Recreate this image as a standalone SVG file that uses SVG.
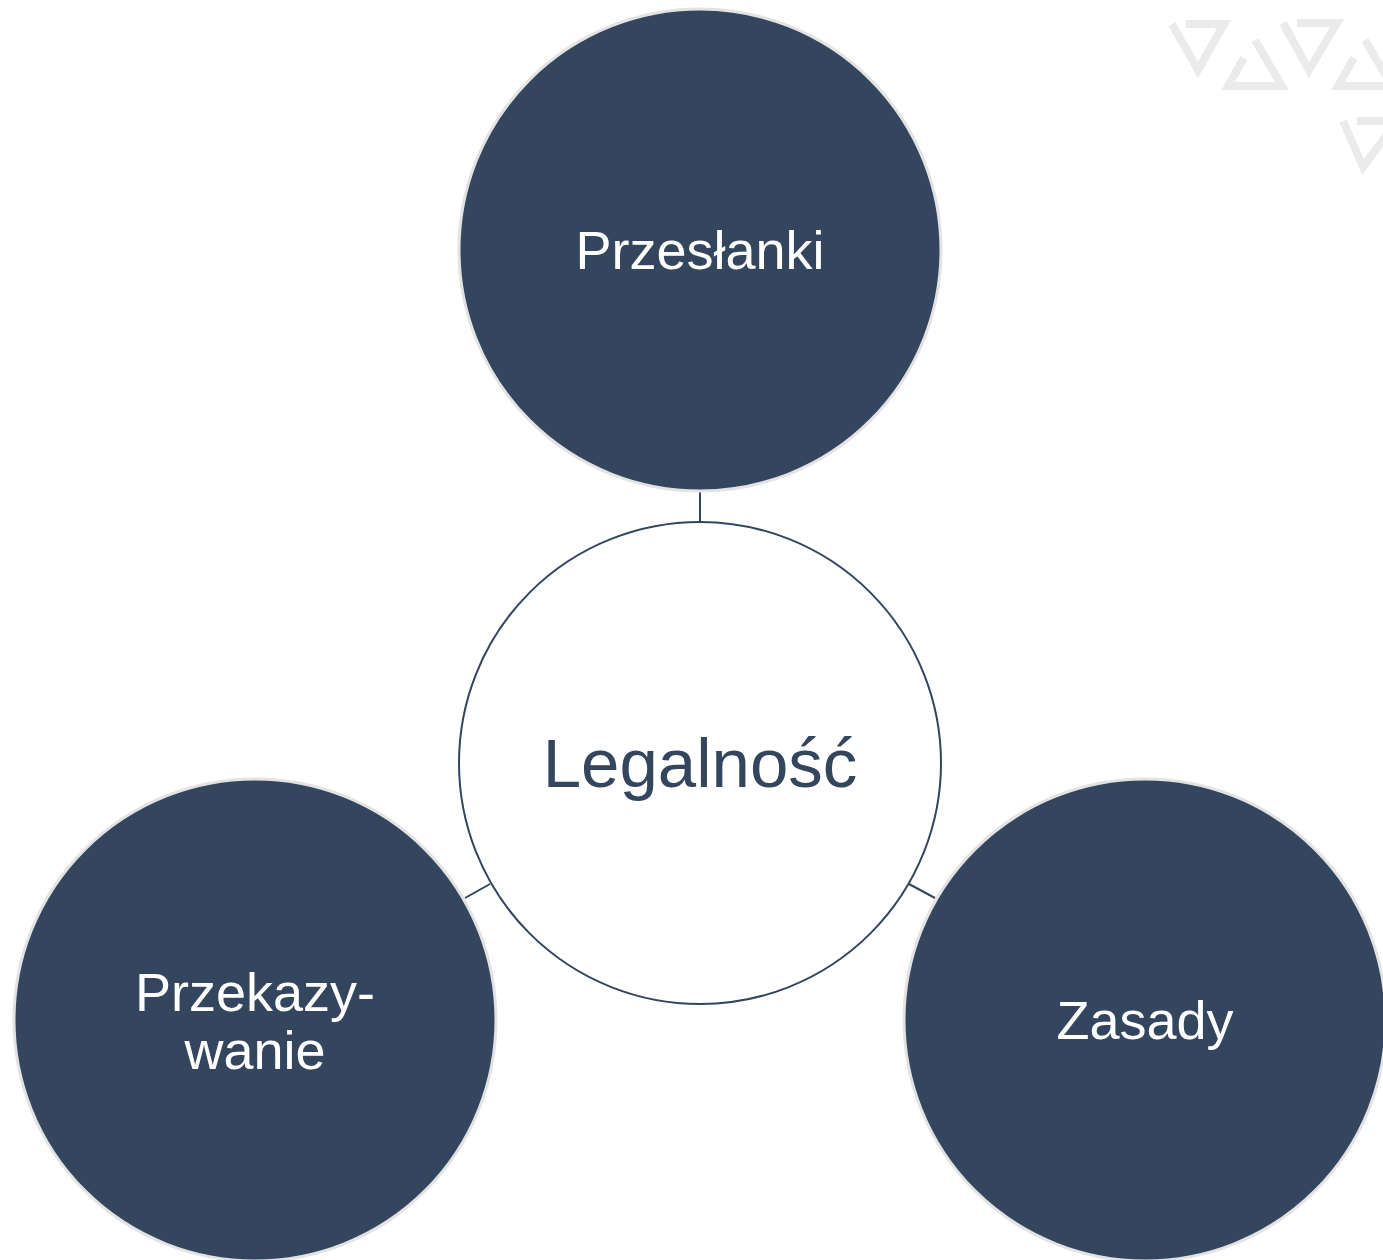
<svg xmlns="http://www.w3.org/2000/svg" width="1383" height="1260" viewBox="0 0 1383 1260">
<style>
.node{fill:#34455e;stroke:#e3e3e3;stroke-width:3}
.center{fill:#ffffff;stroke:#34455e;stroke-width:2}
.conn{stroke:#34455e;stroke-width:2;fill:none}
.lbl{font-family:"Liberation Sans","DejaVu Sans",sans-serif;fill:#ffffff;font-size:54px;text-anchor:middle}
.clbl{font-family:"Liberation Sans","DejaVu Sans",sans-serif;fill:#34455e;font-size:69px;text-anchor:middle}
.wm{fill:none;stroke:#ebebeb;stroke-width:8;stroke-linejoin:miter}
</style>
<rect width="1383" height="1260" fill="#ffffff"/>
<g id="watermark">
<path class="wm" d="M1186,24 L1224,24 L1198,70 L1172,24"/>
<path class="wm" d="M1255,40 L1282,86 L1228,86 L1244,58"/>
<path class="wm" d="M1297,23 L1337,23 L1309,70 L1283,23"/>
<path class="wm" d="M1365,40 L1392,86 L1338,86 L1354,58"/>
<path class="wm" d="M1357,121 L1397,121 L1363,167 L1343,121"/>
</g>
<g id="connectors">
<line class="conn" x1="700" y1="490" x2="700" y2="522"/>
<line class="conn" x1="465" y1="898" x2="490" y2="884"/>
<line class="conn" x1="909" y1="884" x2="935" y2="898"/>
</g>
<g id="node-legalnosc">
<circle class="center" cx="700" cy="763" r="241"/>
<text class="clbl" x="700" y="787">Legalność</text>
</g>
<g id="node-przeslanki">
<circle class="node" cx="700" cy="250" r="241"/>
<text class="lbl" x="700" y="269">Przesłanki</text>
</g>
<g id="node-przekazywanie">
<circle class="node" cx="255" cy="1020" r="241"/>
<text class="lbl" x="255" y="1011">Przekazy-</text>
<text class="lbl" x="255" y="1069">wanie</text>
</g>
<g id="node-zasady">
<circle class="node" cx="1145" cy="1020" r="241"/>
<text class="lbl" x="1145" y="1039">Zasady</text>
</g>
</svg>
